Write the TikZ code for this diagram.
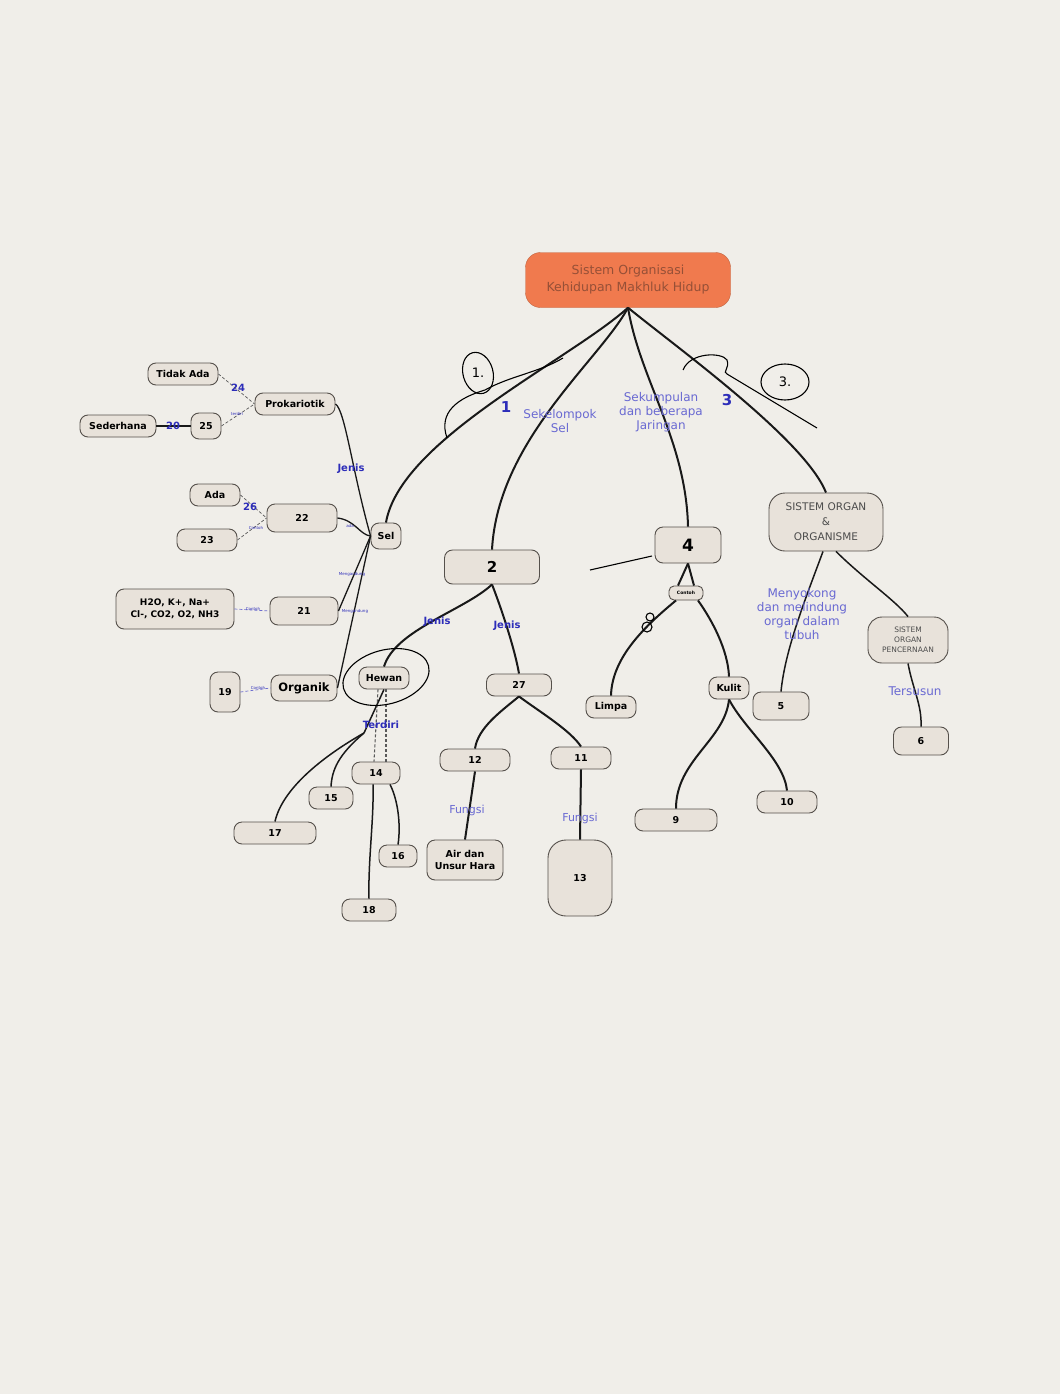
\documentclass[tikz,border=0pt]{standalone}
\usepackage{fontspec}
\setsansfont{DejaVu Sans}
\usepackage{tikz}
\usetikzlibrary{arrows.meta, positioning, calc}
\definecolor{paper}{RGB}{240,238,233}
\definecolor{boxfill}{RGB}{232,226,218}
\definecolor{boxline}{RGB}{85,80,75}
\definecolor{rootfill}{RGB}{240,122,78}
\definecolor{roottext}{RGB}{150,80,55}
\definecolor{lblue}{RGB}{45,45,185}
\definecolor{softblue}{RGB}{105,105,210}

\begin{document}
\begin{tikzpicture}[
  x=1pt, y=-1pt,
  every node/.style={font=\sffamily},
  cbox/.style={draw=boxline, fill=boxfill, rounded corners=8pt, line width=0.9pt,
               minimum height=22pt, inner sep=2pt, align=center,
               font=\sffamily\bfseries\fontsize{9.5}{11.5}\selectfont},
  rootbox/.style={draw=rootfill!80!black, fill=rootfill, rounded corners=15pt,
               minimum width=205pt, minimum height=55pt, align=center,
               text=roottext, font=\sffamily\fontsize{12.5}{17}\selectfont},
  lbl/.style={text=lblue, align=center, font=\sffamily\bfseries\fontsize{10}{12}\selectfont},
  softlbl/.style={text=softblue, align=center, font=\sffamily\fontsize{12}{14}\selectfont},
  minilbl/.style={text=lblue, font=\sffamily\fontsize{4}{5}\selectfont},
  link/.style={line width=2pt, draw=black!90},
  dots/.style={line width=0.7pt, densely dashed, draw=black!65},
  pen/.style={line width=1.1pt, draw=black},
]
\useasboundingbox (0,0) rectangle (1060,1394);
\fill[paper] (0,0) rectangle (1060,1394);

% root
\node[rootbox] (root) at (628,280) {Sistem Organisasi\\Kehidupan Makhluk Hidup};

% left cluster
\node[cbox, minimum width=70] (tidak) at (183,374) {Tidak Ada};
\node[cbox, minimum width=76] (sederhana) at (118,426) {Sederhana};
\node[cbox, minimum width=30, minimum height=26] (n25) at (206,426) {25};
\node[cbox, minimum width=80] (prok) at (295,404) {Prokariotik};
\node[cbox, minimum width=50] (ada) at (215,495) {Ada};
\node[cbox, minimum width=60] (n23) at (207,540) {23};
\node[cbox, minimum width=70, minimum height=28] (n22) at (302,518) {22};
\node[cbox, minimum width=30, minimum height=26] (sel) at (386,536) {Sel};
\node[cbox, minimum width=118, minimum height=40, font=\sffamily\bfseries\fontsize{9}{11.5}\selectfont] (ion) at (175,609) {H2O, K+, Na+\\Cl-, CO2, O2, NH3};
\node[cbox, minimum width=68, minimum height=28] (n21) at (304,611) {21};
\node[cbox, minimum width=30, minimum height=40] (n19) at (225,692) {19};
\node[cbox, minimum width=66, minimum height=26, font=\sffamily\bfseries\fontsize{11.5}{13}\selectfont] (organik) at (304,688) {Organik};

% Hewan branch
\node[cbox, minimum width=50] (hewan) at (384,678) {Hewan};
\node[cbox, minimum width=48] (n14) at (376,773) {14};
\node[cbox, minimum width=44] (n15) at (331,798) {15};
\node[cbox, minimum width=82] (n17) at (275,833) {17};
\node[cbox, minimum width=38] (n16) at (398,856) {16};
\node[cbox, minimum width=54] (n18) at (369,910) {18};

% 2 branch
\node[cbox, minimum width=95, minimum height=34, font=\sffamily\bfseries\fontsize{15}{17}\selectfont] (n2) at (492,567) {2};
\node[cbox, minimum width=65] (n27) at (519,685) {27};
\node[cbox, minimum width=70] (n12) at (475,760) {12};
\node[cbox, minimum width=60] (n11) at (581,758) {11};
\node[cbox, minimum width=76, minimum height=40] (air) at (465,860) {Air dan\\Unsur Hara};
\node[cbox, minimum width=64, minimum height=76, rounded corners=18pt] (n13) at (580,878) {13};

% 4 branch
\node[cbox, minimum width=66, minimum height=36, font=\sffamily\bfseries\fontsize{17}{19}\selectfont] (n4) at (688,545) {4};
\node[cbox, minimum width=34, minimum height=14, rounded corners=5pt, font=\sffamily\bfseries\fontsize{4.5}{5}\selectfont] (otak) at (686,593) {Contoh};
\node[cbox, minimum width=50] (limpa) at (611,707) {Limpa};
\node[cbox, minimum width=40] (kulit) at (729,688) {Kulit};
\node[cbox, minimum width=82] (n9) at (676,820) {9};
\node[cbox, minimum width=60] (n10) at (787,802) {10};

% organ branch
\node[cbox, minimum width=114, minimum height=58, rounded corners=16pt, text=black!70, font=\sffamily\fontsize{10.5}{15}\selectfont] (so) at (826,522) {SISTEM ORGAN\\\&\\ORGANISME};
\node[cbox, minimum width=56, minimum height=28] (n5) at (781,706) {5};
\node[cbox, minimum width=80, minimum height=46, rounded corners=14pt, text=black!70, font=\sffamily\fontsize{7.5}{10}\selectfont] (sop) at (908,640) {SISTEM\\ORGAN\\PENCERNAAN};
\node[cbox, minimum width=55, minimum height=28] (n6) at (921,741) {6};

% connectors from root
\draw[link] (root.south) .. controls (570,360) and (400,440) .. (sel.north);
\draw[link] (root.south) .. controls (600,360) and (498,440) .. (n2.north);
\draw[link] (root.south) .. controls (640,380) and (686,440) .. (n4.north);
\draw[link] (root.south) .. controls (680,350) and (805,440) .. (so.north);

% left cluster connectors
\draw[link, line width=1.3pt] (prok.east) .. controls (345,410) and (352,470) .. (sel.west);
\draw[link, line width=1.3pt] (n22.east) .. controls (355,520) and (360,535) .. (sel.west);
\draw[link, line width=1.3pt] (n21.east) -- (sel.west);
\draw[link, line width=1.3pt] (organik.east) -- (sel.west);
\draw[dots] (tidak.east) -- (prok.west);
\draw[dots] (n25.east) -- (prok.west);
\draw[link, line width=1.2pt] (sederhana.east) -- (n25.west);
\draw[dots] (ada.east) -- (n22.west);
\draw[dots] (n23.east) -- (n22.west);
\draw[dots, draw=lblue!70] (ion.east) -- (n21.west);
\draw[dots, draw=lblue!70] (n19.east) -- (organik.west);

% 2 branch connectors
\draw[link] (n2.south) .. controls (465,610) and (395,630) .. (hewan.north);
\draw[link] (n2.south) .. controls (502,610) and (515,650) .. (n27.north);
\coordinate (tj) at (364,733);
\draw[link, line width=1.5pt] (hewan.south) -- (tj);
\draw[link, line width=1.5pt] (tj) .. controls (320,758) and (282,790) .. (n17.north);
\draw[link, line width=1.5pt] (tj) .. controls (338,755) and (332,770) .. (n15.north);
\draw[dots, line width=1.1pt] ([xshift=-6]hewan.south) -- ([xshift=-2]n14.north);
\draw[dots, line width=1.1pt] ([xshift=2]hewan.south) -- ([xshift=10]n14.north);
\draw[link, line width=1.5pt] ([xshift=-3]n14.south) .. controls (374,820) and (368,860) .. (n18.north);
\draw[link, line width=1.5pt] ([xshift=14]n14.south) .. controls (398,800) and (401,825) .. (n16.north);
\draw[link] (n27.south) .. controls (500,712) and (478,728) .. (n12.north);
\draw[link] (n27.south) .. controls (540,712) and (570,730) .. (n11.north);
\draw[link] (n12.south) -- (air.north);
\draw[link] (n11.south) -- (n13.north);

% 4 branch connectors
\draw[link] (n4.south) -- ([xshift=-8]otak.north);
\draw[link] (n4.south) -- ([xshift=8]otak.north);
\draw[link] ([xshift=-10]otak.south) .. controls (640,630) and (612,660) .. (limpa.north);
\draw[link] ([xshift=12]otak.south) .. controls (712,620) and (728,650) .. (kulit.north);
\draw[link] (kulit.south) .. controls (725,740) and (676,760) .. (n9.north);
\draw[link] (kulit.south) .. controls (745,730) and (784,760) .. (n10.north);

% organ connectors
\draw[link, line width=1.5pt] ([xshift=-3]so.south) .. controls (805,600) and (785,650) .. (n5.north);
\draw[link, line width=1.5pt] ([xshift=10]so.south) .. controls (865,580) and (895,600) .. (sop.north);
\draw[link, line width=1.5pt] (sop.south) .. controls (913,690) and (922,705) .. (n6.north);

% labels
\node[lbl] (l24) at (238,388) {24};
\node[lbl] (l20) at (173,426) {20};
\node[lbl] (l26) at (250,507) {26};
\node[lbl] (ljenis1) at (351,469) {Jenis};
\node[lbl] (ljenis2) at (437,622) {Jenis};
\node[lbl] (ljenis3) at (507,626) {Jenis};
\node[lbl] (lterdiri) at (381,725) {Terdiri};
\node[lbl, font=\sffamily\bfseries\fontsize{15}{17}\selectfont] (l1) at (506,407) {1};
\node[lbl, font=\sffamily\bfseries\fontsize{15}{17}\selectfont] (l3) at (727,400) {3};
\node[softlbl] (lsel) at (560,421) {Sekelompok\\Sel};
\node[softlbl] (ljar) at (661,412) {Sekumpulan\\dan beberapa\\Jaringan};
\node[softlbl, font=\sffamily\fontsize{11}{13}\selectfont] (lfungsi1) at (467,810) {Fungsi};
\node[softlbl, font=\sffamily\fontsize{11}{13}\selectfont] (lfungsi2) at (580,818) {Fungsi};
\node[softlbl] (lmeny) at (802,614) {Menyokong\\dan melindung\\organ dalam\\tubuh};
\node[softlbl] (ltersusun) at (915,691) {Tersusun};
\node[minilbl] (m1) at (237,414) {terdiri};
\node[minilbl] (m2) at (256,528) {Contoh};
\node[minilbl] (m3) at (350,526) {ada};
\node[minilbl] (m4) at (352,574) {Mengandung};
\node[minilbl] (m5) at (355,611) {Mengandung};
\node[minilbl] (m6) at (253,609) {Contoh};
\node[minilbl] (m7) at (258,688) {Contoh};

% pen marks
\draw[pen] (478,373) ellipse [x radius=15, y radius=21, rotate=15];
\node[font=\sffamily\fontsize{13}{15}\selectfont] (h1) at (478,373) {1.};
\draw[pen] (447,438) .. controls (438,412) and (458,398) .. (485,390)
  .. controls (510,376) and (540,372) .. (563,358);
\draw[pen] (785,382) ellipse [x radius=24, y radius=18];
\node[font=\sffamily\fontsize{13}{15}\selectfont] (h3) at (785,382) {3.};
\draw[pen] (683,370) .. controls (690,352) and (722,352) .. (727,360)
  .. controls (730,368) and (722,372) .. (727,374) -- (817,428);
\draw[pen] (590,570) -- (652,556);
\draw[pen] (650,617) circle [radius=4];
\draw[pen] (647,627) circle [radius=5];
\draw[pen] (386,677) ellipse [x radius=44, y radius=27, rotate=15];

\end{tikzpicture}
\end{document}
